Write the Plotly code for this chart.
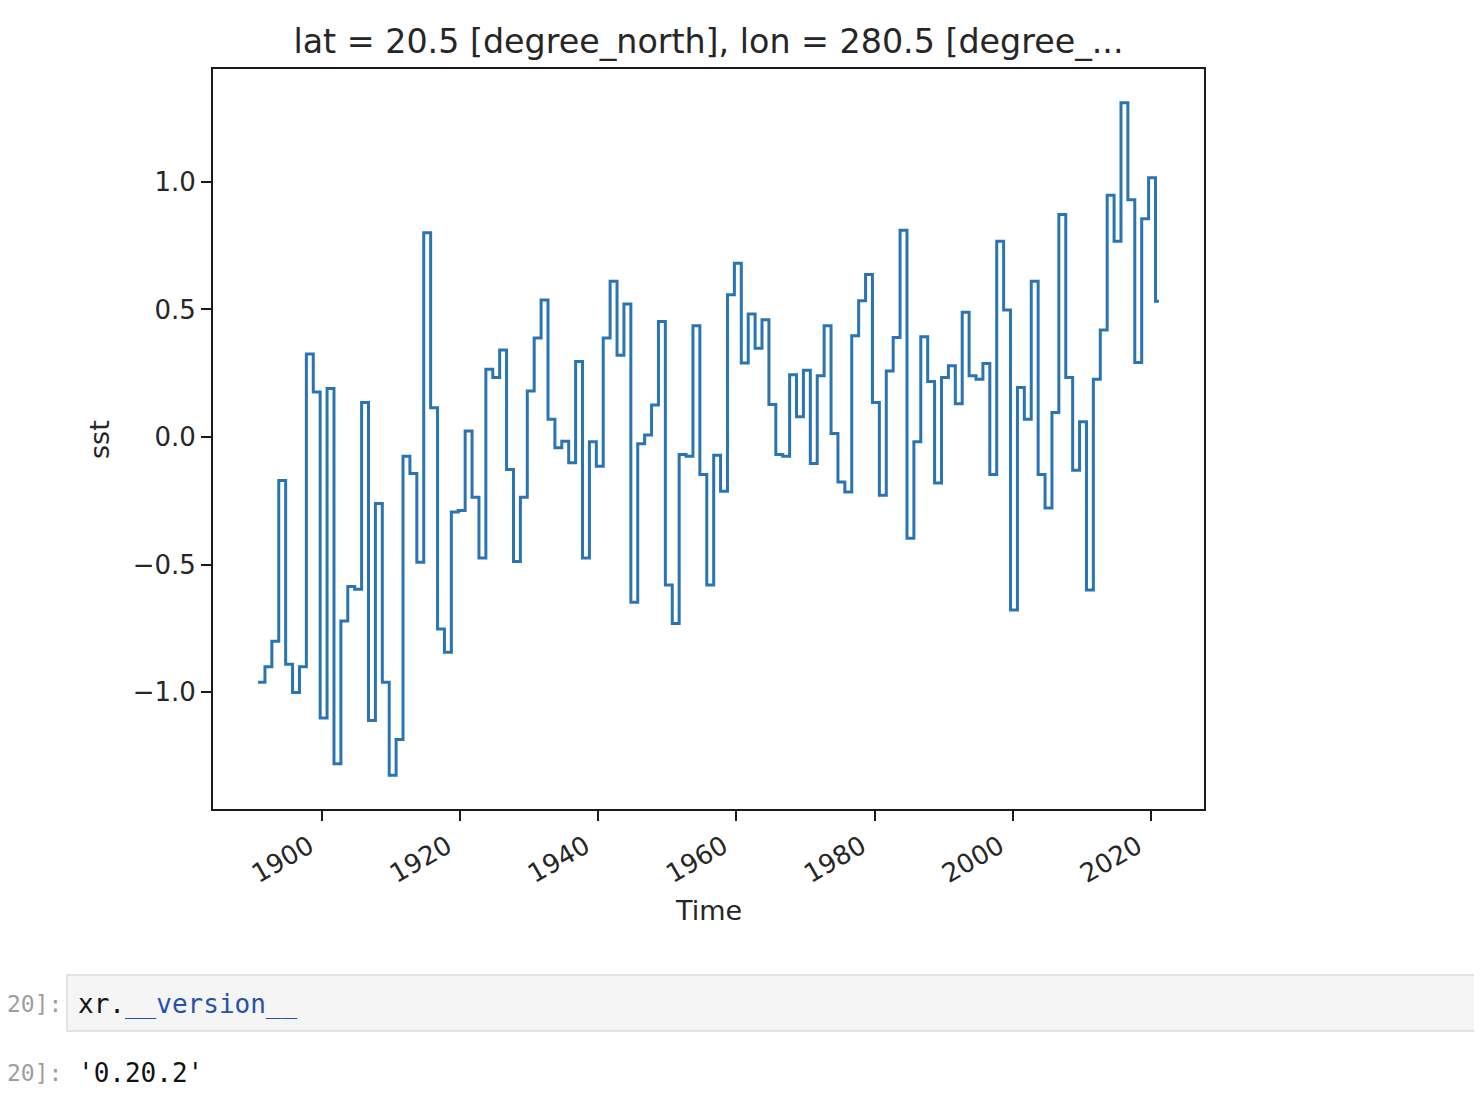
import plotly.graph_objects as go

# ---- data ----
years = list(range(1890, 2021))
sst = [
    -0.96, -0.90, -0.80, -0.17, -0.89, -1.00, -0.90, 0.325, 0.177, -1.10,   # 1890-1899
    0.19, -1.28, -0.72, -0.585, -0.596, 0.135, -1.11, -0.26, -0.96, -1.325,  # 1900-1909
    -1.185, -0.075, -0.143, -0.49, 0.80, 0.115, -0.752, -0.843, -0.293, -0.288,  # 1910-1919
    0.024, -0.236, -0.474, 0.266, 0.233, 0.341, -0.127, -0.487, -0.236, 0.181,  # 1920-1929
    0.388, 0.537, 0.07, -0.042, -0.016, -0.101, 0.296, -0.474, -0.018, -0.114,  # 1930-1939
    0.388, 0.61, 0.321, 0.521, -0.647, -0.026, 0.008, 0.126, 0.453, -0.579,  # 1940-1949
    -0.73, -0.068, -0.075, 0.436, -0.147, -0.579, -0.071, -0.212, 0.558, 0.681,  # 1950-1959
    0.29, 0.482, 0.348, 0.46, 0.128, -0.068, -0.075, 0.244, 0.08, 0.262,  # 1960-1969
    -0.103, 0.24, 0.436, 0.014, -0.176, -0.215, 0.397, 0.534, 0.637, 0.135,  # 1970-1979
    -0.228, 0.259, 0.39, 0.81, -0.396, -0.018, 0.393, 0.218, -0.18, 0.233,  # 1980-1989
    0.279, 0.131, 0.489, 0.24, 0.227, 0.288, -0.147, 0.767, 0.498, -0.677,  # 1990-1999
    0.194, 0.07, 0.61, -0.147, -0.278, 0.096, 0.872, 0.233, -0.13, 0.06,  # 2000-2009
    -0.599, 0.227, 0.419, 0.947, 0.767, 1.31, 0.93, 0.292, 0.855, 1.016,  # 2010-2019
    0.532,  # 2020
]
step_offset = 0.7          # each yearly value starts late in the year
last_time = 2021.2         # end of the record
x_ticks = [1900, 1920, 1940, 1960, 1980, 2000, 2020]
y_ticks = [-1.0, -0.5, 0.0, 0.5, 1.0]
y_tick_text = ["\u22121.0", "\u22120.5", "0.0", "0.5", "1.0"]
title_text = "lat = 20.5 [degree_north], lon = 280.5 [degree_..."

# ---- build step series ----
xs = [y + step_offset for y in years] + [last_time]
ys = sst + [sst[-1]]

# matplotlib-like 5% margins
xmin, xmax = min(xs), max(xs)
ymin, ymax = min(ys), max(ys)
xm = 0.05 * (xmax - xmin)
ym = 0.05 * (ymax - ymin)

OFF = 8  # page body margin
W, H = 1482 - OFF, 1094 - OFF
L, R, T, B = 213 - OFF, 1204 - OFF, 69 - OFF, 809 - OFF  # plot area in figure pixels


def px(xp):  # reference screenshot x -> paper
    return (xp - OFF - L) / (R - L)


def py(yp):  # reference screenshot y -> paper
    return (B - (yp - OFF)) / (B - T)


fig = go.Figure()
fig.add_trace(go.Scatter(
    x=xs, y=ys, mode="lines", line=dict(color="#2a74b3", width=3.0, shape="hv"),
    showlegend=False, hoverinfo="skip"))

axis_common = dict(
    showgrid=False, zeroline=False, showline=True, linecolor="#1a1a1a", linewidth=2,
    mirror=True, ticks="outside", ticklen=10, tickwidth=2, tickcolor="#1a1a1a",
    tickfont=dict(family="DejaVu Sans", size=26, color="#262626"),
)
fig.update_xaxes(range=[xmin - xm, xmax + xm], tickvals=x_ticks,
                 ticktext=[str(t) for t in x_ticks], tickangle=-30,
                 ticklabelshift=-13, **axis_common)
fig.update_yaxes(range=[ymin - ym, ymax + ym], tickvals=y_ticks,
                 ticktext=y_tick_text, **axis_common)

mono = "DejaVu Sans Mono"
annotations = [
    dict(text="Time", x=0.5, y=py(910), xref="paper", yref="paper", showarrow=False,
         font=dict(family="DejaVu Sans", size=27, color="#262626"), xanchor="center", yanchor="middle"),
    dict(text="sst", x=px(99), y=py(440), xref="paper", yref="paper", showarrow=False,
         textangle=-90, font=dict(family="DejaVu Sans", size=27, color="#262626"),
         xanchor="center", yanchor="middle"),
    dict(text="20]:", x=px(64), y=py(1004), xref="paper", yref="paper", showarrow=False,
         font=dict(family=mono, size=23, color="#9e9e9e"), xanchor="right", yanchor="middle"),
    dict(text="xr.<span style='color:#2453a8'>__version__</span>", x=px(76), y=py(1004),
         xref="paper", yref="paper", showarrow=False,
         font=dict(family=mono, size=26, color="#111111"), xanchor="left", yanchor="middle"),
    dict(text="20]:", x=px(64), y=py(1073), xref="paper", yref="paper", showarrow=False,
         font=dict(family=mono, size=23, color="#9e9e9e"), xanchor="right", yanchor="middle"),
    dict(text="'0.20.2'", x=px(76), y=py(1073), xref="paper", yref="paper", showarrow=False,
         font=dict(family=mono, size=26, color="#111111"), xanchor="left", yanchor="middle"),
]

shapes = [dict(type="rect", xref="paper", yref="paper", x0=px(67), x1=px(1495),
               y0=py(1031), y1=py(975), fillcolor="#f5f5f5",
               line=dict(color="#dcdcdc", width=1.5), layer="below")]

fig.update_layout(
    width=W, height=H,
    margin=dict(l=L, r=W - R, t=T, b=H - B, autoexpand=False),
    paper_bgcolor="white", plot_bgcolor="white",
    title=dict(text=title_text, x=0.5, xref="paper", xanchor="center",
               y=1 - (41 - OFF) / H, yref="container", yanchor="middle",
               font=dict(family="DejaVu Sans", size=33.3, color="#262626")),
    annotations=annotations, shapes=shapes,
)
fig.update_xaxes(automargin=False)
fig.update_yaxes(automargin=False)

fig.write_html("out.html")
